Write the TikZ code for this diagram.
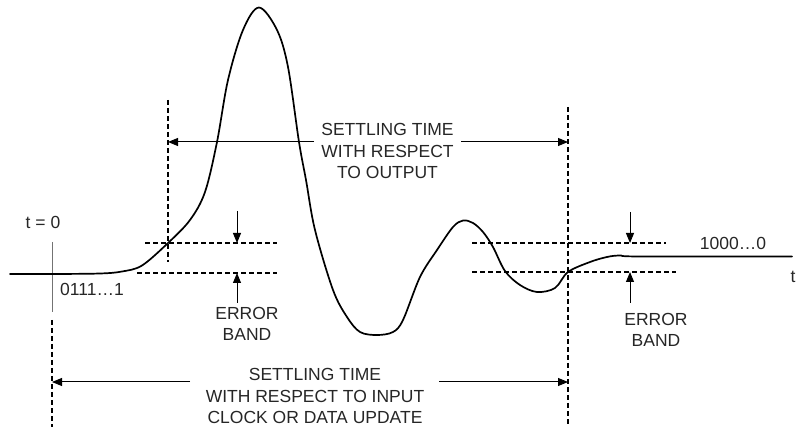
\documentclass[tikz,border=0pt]{standalone}
\usepackage{fontspec}
\setmainfont{Liberation Sans}
\usetikzlibrary{arrows.meta}
\begin{document}
\begin{tikzpicture}[x=1pt,y=-1pt,
  lbl/.style={font=\fontsize{17.5}{21.5}\selectfont, align=center, inner sep=0pt, text=black!85},
  dsh/.style={line width=1.4pt, dash pattern=on 5pt off 3pt},
  arr/.style={line width=1pt, -{Triangle[length=10pt,width=8pt]}},
  sig/.style={line width=1.7pt, line join=round, line cap=round},
  tick/.style={line width=1pt, draw=black!55}]
\useasboundingbox (0,0) rectangle (803,427);

% texts
\node[lbl] (top) at (387.5,151) {SETTLING TIME\\WITH RESPECT\\TO OUTPUT};
\node[lbl] (bot) at (315,396) {SETTLING TIME\\WITH RESPECT TO INPUT\\CLOCK OR DATA UPDATE};
\node[lbl] (eb1) at (247,324) {ERROR\\BAND};
\node[lbl] (eb2) at (656,330) {ERROR\\BAND};
\node[lbl] (t0) at (43,222) {t = 0};
\node[lbl, anchor=west] (code0) at (60,289) {0111…1};
\node[lbl] (code1) at (733,243) {1000…0};
\node[lbl] (tax) at (793,277) {t};

% coordinates
\coordinate (v1t) at (168,100);   \coordinate (v1b) at (168,262);
\coordinate (v2t) at (568,107);   \coordinate (v2b) at (568,427);
\coordinate (v0t) at (52,242);    \coordinate (v0m) at (52,312);
\coordinate (v0d) at (52,320);    \coordinate (v0b) at (52,427);

\coordinate (lu1) at (145,243);   \coordinate (lu2) at (277,243);
\coordinate (ll1) at (137,273);   \coordinate (ll2) at (277,273);
\coordinate (ru1) at (472,243);   \coordinate (ru2) at (666,243);
\coordinate (rl1) at (472,272);   \coordinate (rl2) at (676,272);

\coordinate (lda) at (237,211);   \coordinate (ldb) at (237,243);
\coordinate (lua) at (237,303);   \coordinate (lub) at (237,273);
\coordinate (rda) at (630,212);   \coordinate (rdb) at (630,243);
\coordinate (rua) at (630,303);   \coordinate (rub) at (630,272);

\coordinate (ta1) at (314,142);   \coordinate (ta2) at (461,142);
\coordinate (ba1) at (190,382);   \coordinate (ba2) at (439,382);

% vertical markers
\draw[dsh] (v1t) -- (v1b);
\draw[dsh] (v2t) -- (v2b);
\draw[tick] (v0t) -- (v0m);
\draw[dsh] (v0d) -- (v0b);

% error bands
\draw[dsh] (lu1) -- (lu2);
\draw[dsh] (ll1) -- (ll2);
\draw[dsh] (ru1) -- (ru2);
\draw[dsh] (rl1) -- (rl2);

\draw[arr] (lda) -- (ldb);
\draw[arr] (lua) -- (lub);
\draw[arr] (rda) -- (rdb);
\draw[arr] (rua) -- (rub);

% settling time arrows
\draw[arr] (ta1) -- (v1t |- ta1);
\draw[arr] (ta2) -- (v2t |- ta2);
\draw[arr] (ba1) -- (v0t |- ba1);
\draw[arr] (ba2) -- (v2t |- ba2);

% signal
\draw[sig] plot[smooth, tension=0.55] coordinates {
 (10,274) (52,274) (100,273.5) (122,271.5) (142,265.5) (168,243) (190,220) (205,192)
 (217,142) (228,80) (243,30) (259,7.5) (277,30) (288,67) (299,142)
 (306,180) (315,230) (333,290) (347,317) (360,332) (377,335) (393,332)
 (403,320) (420,277) (437,250) (453,227) (463,220.5) (473,223) (483,232) (493,247)
 (505,271) (520,285) (537,292) (555,288) (568,272) (590,262) (607,257)
 (620,255.5) (640,256.5) (792,256.5)};
\end{tikzpicture}
\end{document}
